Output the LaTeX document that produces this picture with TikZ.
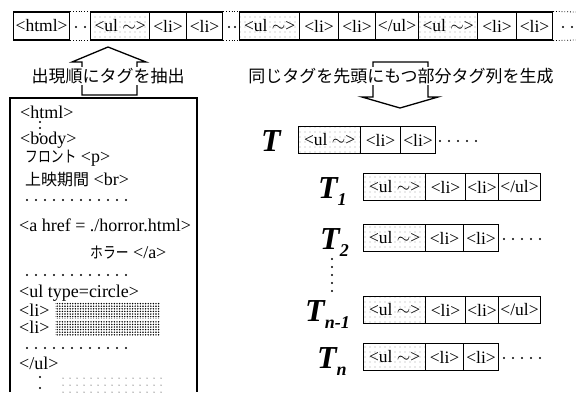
\documentclass[tikz,border=0pt]{standalone}
\usepackage{fontspec}
\setmainfont{Liberation Serif}
\newfontfamily\jp{Noto Sans CJK JP}
\usetikzlibrary{patterns.meta}
\newcommand\Tsub[1]{\raisebox{-0.22em}{\fontsize{18}{18}\selectfont #1}}
\begin{document}
\begin{tikzpicture}[x=1pt,y=-1pt,
  tagbox/.style={draw, line width=1.2pt, inner sep=0pt, minimum height=28pt, anchor=west, font=\fontsize{17.5}{17.5}\selectfont},
  rowbox/.style={tagbox, minimum height=27pt},
  ulfill/.style={pattern={Dots[radius=0.45pt, distance=5pt]}},
  densefill/.style={pattern={Dots[radius=0.8pt, distance=2.6pt]}},
  sparsefill/.style={pattern={Dots[radius=0.5pt, distance=7pt]}},
  code/.style={anchor=west, inner sep=0pt, font=\fontsize{18}{18}\selectfont},
  jtext/.style={font=\jp\fontsize{17}{17}\selectfont, fill=white, inner sep=1pt},
  lbl/.style={anchor=base west, inner sep=0pt, font=\fontsize{32}{32}\selectfont\bfseries\itshape},
  blk/.style={line width=1.3pt, line join=miter},
  dot/.style={circle, fill=black, inner sep=0pt, minimum size=2.4pt}
]
\useasboundingbox (0,0) rectangle (576,392);

% ---- top strip ----
\node[tagbox, minimum width=56pt] (h) at (13,26) {<html>};
\node[tagbox, ulfill, minimum width=59pt] (u1) at (90,26) {<ul $\sim$>};
\node[tagbox, minimum width=37pt] (l1) at (149,26) {<li>};
\node[tagbox, minimum width=36pt] (l2) at (186,26) {<li>};
\node[tagbox, ulfill, minimum width=60pt] (u2) at (239,26) {<ul $\sim$>};
\node[tagbox, minimum width=39pt] (l3) at (299,26) {<li>};
\node[tagbox, minimum width=37pt] (l4) at (338,26) {<li>};
\node[tagbox, minimum width=43pt] (e1) at (375,26) {</ul>};
\node[tagbox, ulfill, minimum width=59pt] (u3) at (418,26) {<ul $\sim$>};
\node[tagbox, minimum width=39pt] (l5) at (477,26) {<li>};
\node[tagbox, minimum width=36pt] (l6) at (516,26) {<li>};
\coordinate (endt) at (576,12);
\coordinate (endb) at (576,40);
\draw[dotted, line width=0.8pt] (h.north east) -- (u1.north west) (h.south east) -- (u1.south west);
\draw[dotted, line width=0.8pt] (l2.north east) -- (u2.north west) (l2.south east) -- (u2.south west);
\draw[dotted, line width=0.8pt] (l6.north east) -- (endt) (l6.south east) -- (endb);
\node[dot] (d1) at (76,27) {};
\node[dot] (d2) at (85,27) {};
\node[dot] (d3) at (229,27) {};
\node[dot] (d4) at (235,27) {};
\node[dot] (d5) at (563,27) {};
\node[dot] (d6) at (572,27) {};

% ---- block arrows ----
\draw[blk] (82,95) -- (137,95) -- (137,62) -- (146,62) -- (108,47) -- (72,62) -- (82,62) -- cycle;
\draw[blk] (373,62) -- (428,62) -- (428,97) -- (438,97) -- (400,108) -- (362,97) -- (373,97) -- cycle;
\node[jtext] (lab1) at (108,76) {出現順にタグを抽出};
\node[jtext] (lab2) at (401,76) {同じタグを先頭にもつ部分タグ列を生成};

% ---- left html box ----
\draw[line width=1.3pt] (10,392) -- (10,98) -- (197,98) -- (197,392);
\node[code] (c1) at (20,112) {<html>};
\foreach \yy in {122,128,134} \node[dot, minimum size=2.2pt] at (40,\yy) {};
\node[code] (c2) at (20,140) {<body>};
\node[code] (c3) at (25,158) {{\jp\fontsize{16}{16}\selectfont\scalebox{0.8}[1]{フロント}} <p>};
\node[code] (c4) at (25,179) {{\jp\fontsize{16}{16}\selectfont 上映期間} <br>};
\foreach \xx in {0,...,11} \node[dot, minimum size=2.2pt] at (27+9*\xx,200) {};
\node[code] (c5) at (19,225) {<a href = ./horror.html>};
\node[code] (c6) at (90,253) {{\jp\fontsize{16}{16}\selectfont\scalebox{0.8}[1]{ホラー}} </a>};
\foreach \xx in {0,...,11} \node[dot, minimum size=2.2pt] at (27+9*\xx,275) {};
\node[code] (c7) at (19,293) {<ul type=circle>};
\node[code] (c8) at (19,310) {<li>};
\fill[densefill] (55,302) rectangle (160,318);
\node[code] (c9) at (19,327) {<li>};
\fill[densefill] (55,320) rectangle (160,336);
\foreach \xx in {0,...,11} \node[dot, minimum size=2.2pt] at (27+9*\xx,348) {};
\node[code] (c10) at (19,363) {</ul>};
\foreach \yy in {377,388} \node[dot, minimum size=2.4pt] at (40,\yy) {};
\fill[sparsefill] (60,372) rectangle (163,392);

% ---- T rows ----
\node[lbl] (t0) at (261,151) {T};
\node[rowbox, ulfill, minimum width=62pt] (a1) at (298,140) {<ul $\sim$>};
\node[rowbox, minimum width=40pt] (a2) at (360,140) {<li>};
\node[rowbox, minimum width=35pt] (a3) at (400,140) {<li>};
\foreach \xx in {0,...,4} \node[dot] at (440+9*\xx,141) {};

\node[lbl] (t1) at (318,198) {T\Tsub{1}};
\node[rowbox, ulfill, minimum width=62pt] (b1) at (363,187) {<ul $\sim$>};
\node[rowbox, minimum width=40pt] (b2) at (425,187) {<li>};
\node[rowbox, minimum width=33pt] (b3) at (465,187) {<li>};
\node[rowbox, minimum width=42pt] (b4) at (498,187) {</ul>};

\node[lbl] (t2) at (320,249) {T\Tsub{2}};
\node[rowbox, ulfill, minimum width=62pt] (c1r) at (363,238) {<ul $\sim$>};
\node[rowbox, minimum width=38pt] (c2r) at (425,238) {<li>};
\node[rowbox, minimum width=35pt] (c3r) at (463,238) {<li>};
\foreach \xx in {0,...,4} \node[dot] at (504+9*\xx,239) {};

\foreach \yy in {0,...,4} \node[dot] at (332,259+8*\yy) {};

\node[lbl] (t3) at (305,321) {T\Tsub{n-1}};
\node[rowbox, ulfill, minimum width=62pt] (d1r) at (363,310) {<ul $\sim$>};
\node[rowbox, minimum width=40pt] (d2r) at (425,310) {<li>};
\node[rowbox, minimum width=33pt] (d3r) at (465,310) {<li>};
\node[rowbox, minimum width=42pt] (d4r) at (498,310) {</ul>};

\node[lbl] (t4) at (317,368) {T\Tsub{n}};
\node[rowbox, ulfill, minimum width=62pt] (e1r) at (363,357) {<ul $\sim$>};
\node[rowbox, minimum width=38pt] (e2r) at (425,357) {<li>};
\node[rowbox, minimum width=35pt] (e3r) at (463,357) {<li>};
\foreach \xx in {0,...,4} \node[dot] at (504+9*\xx,358) {};
\end{tikzpicture}
\end{document}
